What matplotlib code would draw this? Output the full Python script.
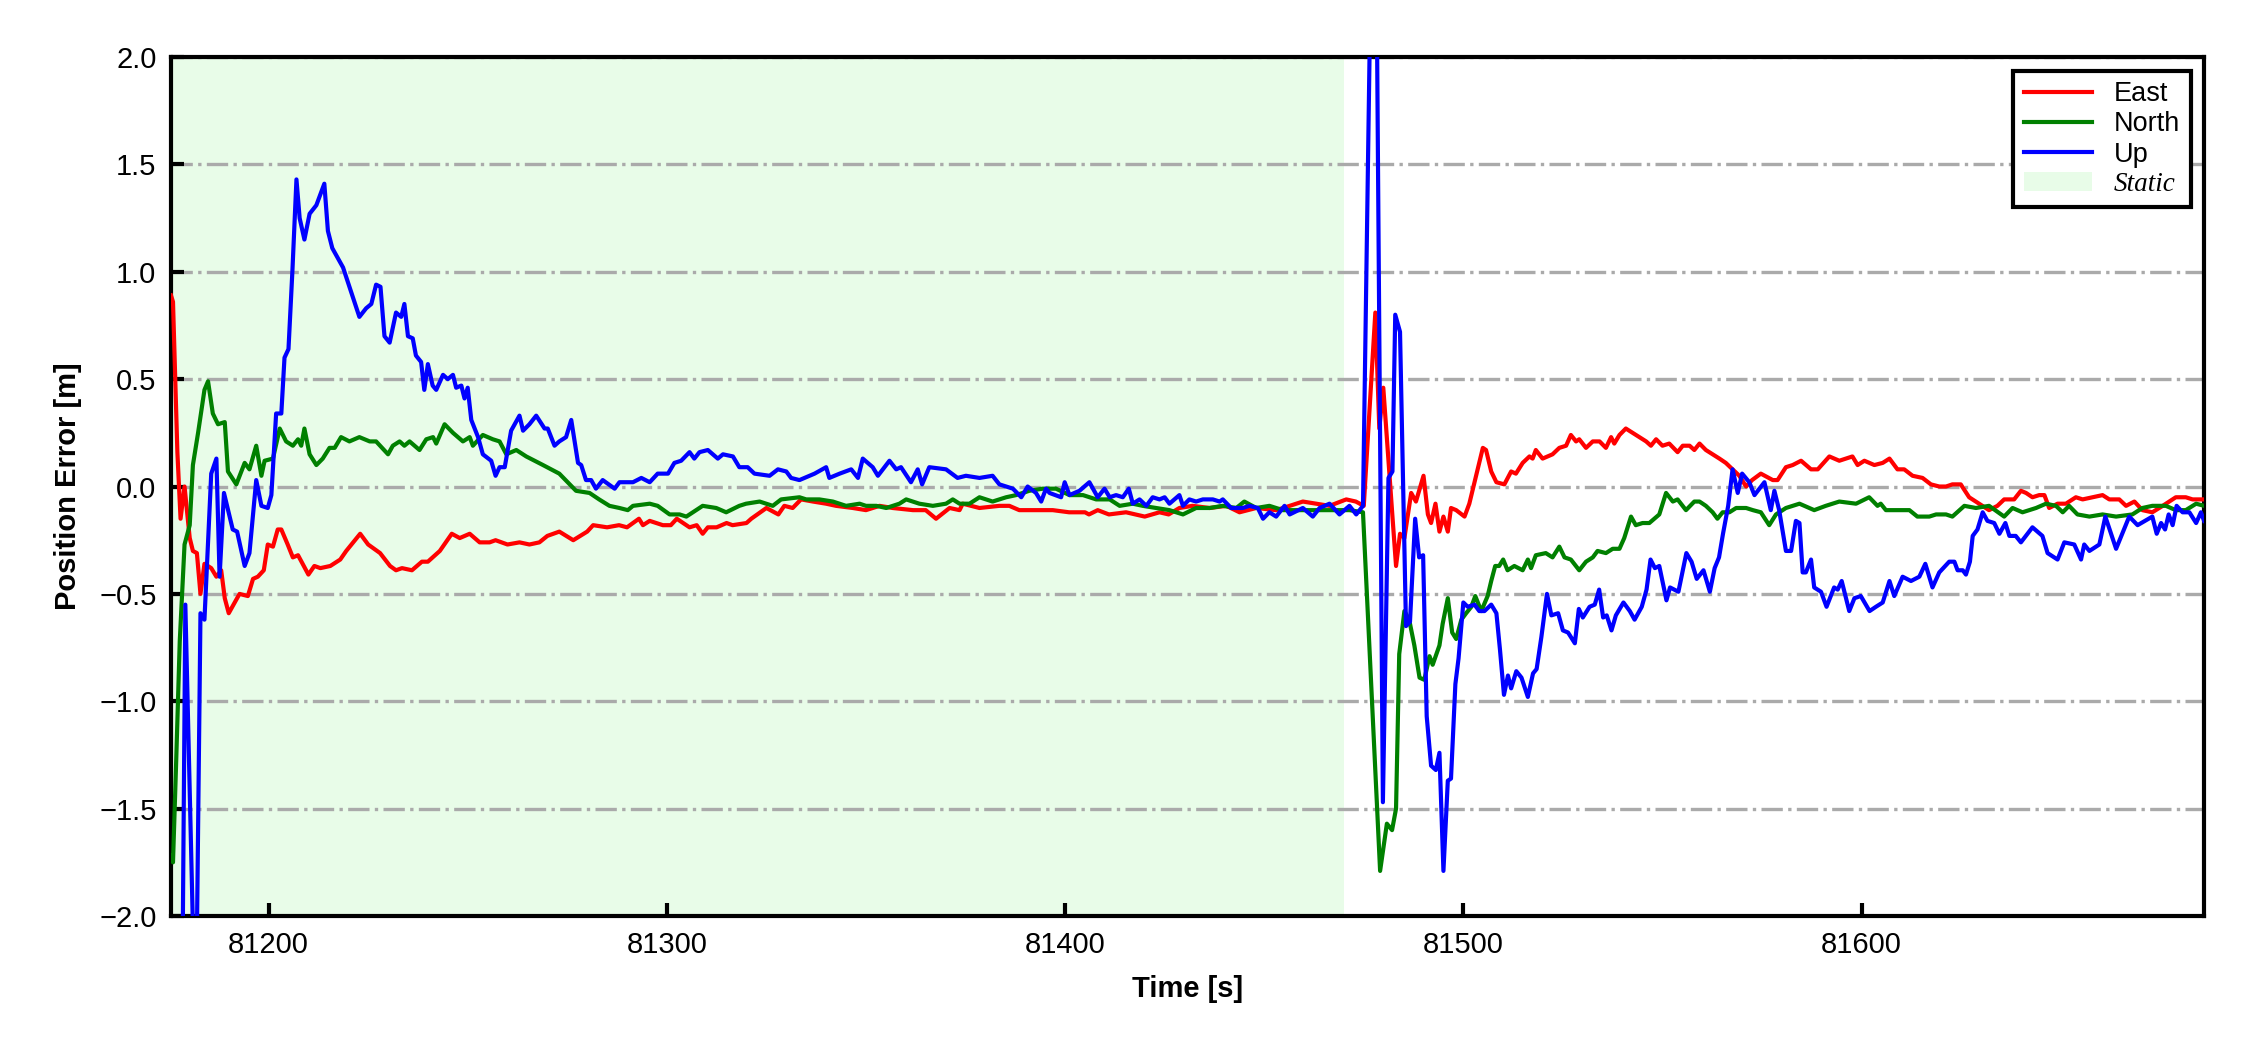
import numpy as np
import matplotlib
matplotlib.use('Agg')
import matplotlib.pyplot as plt
from matplotlib.patches import Patch
from matplotlib.lines import Line2D

# (time [s], error [m])
east_pts = [
    (81175.5, 0.89), (81176.0, 0.86), (81177.1, 0.16), (81177.9, -0.15), (81178.9, 0.00), (81180.2, -0.24),
    (81181.0, -0.30), (81182.0, -0.31), (81182.9, -0.50), (81183.9, -0.36), (81185.6, -0.38), (81186.9, -0.42),
    (81188.1, -0.39), (81189.0, -0.52), (81190.0, -0.59), (81191.5, -0.54), (81192.7, -0.50), (81194.8, -0.51),
    (81196.1, -0.43), (81197.3, -0.42), (81198.8, -0.39), (81199.8, -0.27), (81201.1, -0.28), (81202.3, -0.20),
    (81203.2, -0.20), (81204.8, -0.27), (81206.1, -0.33), (81207.4, -0.32), (81210.0, -0.41), (81211.5, -0.37),
    (81213.0, -0.38), (81215.5, -0.37), (81218.0, -0.34), (81219.5, -0.30), (81223.0, -0.22), (81225.0, -0.27),
    (81228.0, -0.31), (81230.5, -0.37), (81232.0, -0.39), (81233.5, -0.38), (81236.0, -0.39), (81238.5, -0.35),
    (81240.0, -0.35), (81243.0, -0.30), (81246.0, -0.22), (81248.0, -0.24), (81250.5, -0.22), (81253.0, -0.26),
    (81255.5, -0.26), (81257.0, -0.25), (81260.0, -0.27), (81263.0, -0.26), (81265.5, -0.27), (81268.0, -0.26),
    (81270.0, -0.23), (81273.0, -0.21), (81276.5, -0.25), (81280.0, -0.21), (81281.5, -0.18), (81285.0, -0.19),
    (81288.0, -0.18), (81290.0, -0.19), (81293.0, -0.15), (81294.0, -0.18), (81295.7, -0.16), (81299.0, -0.18),
    (81301.0, -0.18), (81302.5, -0.15), (81305.7, -0.19), (81307.5, -0.18), (81309.0, -0.22), (81310.3, -0.19),
    (81312.5, -0.19), (81315.0, -0.17), (81316.5, -0.18), (81320.0, -0.17), (81321.2, -0.15), (81325.0, -0.10),
    (81328.0, -0.13), (81329.5, -0.09), (81331.6, -0.10), (81333.7, -0.06), (81336.7, -0.07), (81340.0, -0.08),
    (81342.5, -0.09), (81346.7, -0.10), (81350.0, -0.11), (81353.4, -0.09), (81356.7, -0.10), (81361.8, -0.11),
    (81365.0, -0.11), (81367.6, -0.15), (81371.0, -0.10), (81373.5, -0.11), (81374.3, -0.08), (81378.5, -0.10),
    (81383.5, -0.09), (81386.0, -0.09), (81388.5, -0.11), (81392.0, -0.11), (81396.9, -0.11), (81401.0, -0.12),
    (81405.0, -0.12), (81406.0, -0.13), (81408.2, -0.11), (81411.0, -0.13), (81415.3, -0.12), (81420.0, -0.14),
    (81423.7, -0.12), (81426.0, -0.13), (81428.7, -0.10), (81432.0, -0.09), (81436.3, -0.10), (81440.5, -0.09),
    (81443.8, -0.12), (81448.0, -0.10), (81453.0, -0.11), (81456.4, -0.09), (81459.7, -0.07), (81463.0, -0.08),
    (81466.4, -0.09), (81470.6, -0.06), (81473.0, -0.07), (81475.0, -0.09), (81477.9, 0.81), (81478.9, 0.27),
    (81479.9, 0.46), (81481.0, 0.17), (81482.2, -0.14), (81483.1, -0.37), (81484.1, -0.22), (81485.2, -0.24),
    (81486.9, -0.03), (81488.1, -0.07), (81490.0, 0.05), (81491.1, -0.13), (81491.9, -0.17), (81493.0, -0.08),
    (81494.0, -0.21), (81495.0, -0.14), (81496.1, -0.21), (81496.9, -0.10), (81498.2, -0.11), (81500.3, -0.14),
    (81501.5, -0.08), (81503.2, 0.05), (81504.9, 0.18), (81505.7, 0.17), (81507.0, 0.07), (81508.3, 0.02),
    (81510.3, 0.01), (81512.0, 0.07), (81513.2, 0.06), (81514.9, 0.11), (81516.6, 0.14), (81517.4, 0.13),
    (81518.2, 0.17), (81519.9, 0.13), (81522.4, 0.15), (81524.1, 0.18), (81525.8, 0.19), (81527.0, 0.24),
    (81528.3, 0.21), (81529.1, 0.22), (81530.8, 0.18), (81532.5, 0.21), (81534.2, 0.21), (81535.8, 0.18),
    (81537.1, 0.23), (81537.9, 0.20), (81539.2, 0.24), (81540.8, 0.27), (81542.5, 0.25), (81544.2, 0.23),
    (81545.9, 0.21), (81547.1, 0.19), (81548.4, 0.22), (81550.0, 0.19), (81551.7, 0.20), (81553.8, 0.16),
    (81555.1, 0.19), (81556.8, 0.19), (81558.0, 0.17), (81559.3, 0.20), (81560.9, 0.17), (81562.6, 0.15),
    (81564.3, 0.13), (81565.9, 0.11), (81567.6, 0.08), (81569.3, 0.05), (81571.0, 0.00), (81572.5, 0.03),
    (81574.7, 0.06), (81577.7, 0.03), (81578.9, 0.03), (81581.0, 0.09), (81582.7, 0.10), (81584.8, 0.12),
    (81587.3, 0.08), (81589.0, 0.08), (81591.9, 0.14), (81594.4, 0.12), (81597.7, 0.14), (81599.0, 0.10),
    (81600.7, 0.12), (81603.2, 0.10), (81605.3, 0.11), (81607.0, 0.13), (81609.0, 0.08), (81610.7, 0.08),
    (81612.8, 0.05), (81615.3, 0.04), (81617.4, 0.01), (81619.5, 0.00), (81621.2, 0.00), (81622.8, 0.01),
    (81624.9, 0.01), (81627.0, -0.05), (81629.5, -0.08), (81632.0, -0.11), (81634.1, -0.09), (81635.8, -0.06),
    (81638.3, -0.06), (81640.0, -0.02), (81641.3, -0.03), (81642.9, -0.05), (81644.6, -0.04), (81645.9, -0.04),
    (81647.1, -0.10), (81649.2, -0.08), (81651.3, -0.08), (81653.8, -0.05), (81655.5, -0.06), (81658.0, -0.05),
    (81660.5, -0.04), (81662.2, -0.06), (81664.7, -0.06), (81666.4, -0.09), (81668.5, -0.07), (81670.5, -0.11),
    (81673.0, -0.12), (81675.6, -0.09), (81678.9, -0.05), (81681.4, -0.05), (81683.1, -0.06), (81686.0, -0.06),
]

north_pts = [
    (81175.5, -1.72), (81176.0, -1.75), (81176.8, -1.28), (81177.7, -0.72), (81178.9, -0.27), (81180.2, -0.18),
    (81181.0, 0.10), (81182.3, 0.25), (81183.9, 0.45), (81184.8, 0.49), (81186.0, 0.34), (81187.3, 0.29),
    (81189.0, 0.30), (81189.8, 0.07), (81191.9, 0.01), (81194.0, 0.11), (81195.2, 0.08), (81196.9, 0.19),
    (81198.2, 0.05), (81199.0, 0.12), (81201.1, 0.13), (81202.8, 0.27), (81204.4, 0.21), (81206.1, 0.19),
    (81207.4, 0.22), (81208.2, 0.19), (81209.0, 0.27), (81210.3, 0.15), (81212.0, 0.10), (81213.6, 0.13),
    (81215.3, 0.18), (81216.6, 0.18), (81218.2, 0.23), (81220.3, 0.21), (81222.8, 0.23), (81225.4, 0.21),
    (81227.0, 0.21), (81230.0, 0.15), (81231.2, 0.19), (81232.9, 0.21), (81234.1, 0.19), (81235.4, 0.21),
    (81237.9, 0.17), (81239.6, 0.22), (81241.3, 0.23), (81242.1, 0.20), (81244.2, 0.29), (81246.3, 0.25),
    (81248.8, 0.21), (81250.5, 0.23), (81251.3, 0.19), (81253.8, 0.24), (81256.3, 0.22), (81258.0, 0.21),
    (81259.7, 0.15), (81262.2, 0.17), (81264.7, 0.14), (81268.9, 0.10), (81273.0, 0.06), (81277.2, -0.02),
    (81280.6, -0.03), (81283.0, -0.06), (81285.6, -0.09), (81288.1, -0.10), (81290.2, -0.11), (81291.5, -0.09),
    (81295.7, -0.08), (81297.7, -0.09), (81300.7, -0.13), (81303.2, -0.13), (81304.9, -0.14), (81309.0, -0.09),
    (81312.4, -0.10), (81314.9, -0.12), (81318.2, -0.09), (81319.9, -0.08), (81323.3, -0.07), (81326.6, -0.09),
    (81328.7, -0.06), (81333.3, -0.05), (81335.0, -0.06), (81338.3, -0.06), (81341.7, -0.07), (81345.0, -0.09),
    (81348.4, -0.08), (81350.0, -0.09), (81352.6, -0.09), (81355.1, -0.10), (81358.4, -0.08), (81360.1, -0.06),
    (81363.4, -0.08), (81366.8, -0.09), (81370.1, -0.08), (81371.8, -0.06), (81373.5, -0.08), (81376.0, -0.08),
    (81378.5, -0.05), (81381.8, -0.07), (81385.2, -0.05), (81387.7, -0.04), (81391.0, -0.02), (81394.4, -0.01),
    (81397.7, -0.01), (81401.1, -0.04), (81404.5, -0.04), (81407.8, -0.06), (81411.2, -0.06), (81413.7, -0.09),
    (81417.0, -0.08), (81419.5, -0.09), (81422.9, -0.10), (81426.2, -0.11), (81429.6, -0.13), (81432.9, -0.10),
    (81436.3, -0.10), (81439.6, -0.09), (81443.0, -0.10), (81445.0, -0.07), (81448.0, -0.10), (81451.3, -0.09),
    (81454.7, -0.11), (81459.7, -0.11), (81463.0, -0.11), (81467.2, -0.11), (81471.4, -0.11), (81474.8, -0.12),
    (81479.1, -1.79), (81480.8, -1.57), (81482.1, -1.60), (81483.1, -1.50), (81483.9, -0.78), (81485.2, -0.58),
    (81486.4, -0.62), (81487.7, -0.74), (81489.0, -0.89), (81490.2, -0.90), (81491.5, -0.79), (81492.3, -0.83),
    (81494.0, -0.74), (81494.8, -0.64), (81496.1, -0.52), (81497.2, -0.68), (81498.2, -0.71), (81499.5, -0.62),
    (81500.7, -0.59), (81502.0, -0.56), (81503.0, -0.51), (81504.5, -0.58), (81506.1, -0.51), (81507.0, -0.44),
    (81508.0, -0.37), (81509.0, -0.37), (81510.0, -0.34), (81511.1, -0.39), (81512.8, -0.37), (81514.9, -0.39),
    (81516.2, -0.34), (81517.0, -0.38), (81518.2, -0.32), (81520.7, -0.31), (81522.4, -0.33), (81524.1, -0.28),
    (81525.4, -0.33), (81527.0, -0.34), (81529.1, -0.39), (81530.8, -0.35), (81532.5, -0.33), (81533.7, -0.30),
    (81535.8, -0.31), (81537.5, -0.29), (81539.2, -0.29), (81540.4, -0.24), (81542.1, -0.14), (81543.3, -0.18),
    (81545.0, -0.17), (81546.7, -0.17), (81549.2, -0.13), (81550.9, -0.03), (81552.6, -0.07), (81553.8, -0.06),
    (81555.9, -0.11), (81558.0, -0.07), (81559.3, -0.07), (81560.9, -0.09), (81562.6, -0.12), (81563.8, -0.15),
    (81565.1, -0.12), (81566.8, -0.12), (81568.5, -0.10), (81571.0, -0.10), (81572.7, -0.11), (81574.7, -0.12),
    (81576.8, -0.18), (81578.5, -0.13), (81581.0, -0.10), (81584.4, -0.08), (81588.1, -0.11), (81591.0, -0.09),
    (81594.4, -0.07), (81598.6, -0.08), (81601.9, -0.05), (81604.0, -0.09), (81604.8, -0.08), (81606.1, -0.11),
    (81609.5, -0.11), (81612.0, -0.11), (81614.0, -0.14), (81617.0, -0.14), (81618.7, -0.13), (81621.2, -0.13),
    (81622.8, -0.14), (81625.8, -0.09), (81628.7, -0.10), (81632.0, -0.09), (81635.8, -0.14), (81637.9, -0.10),
    (81640.4, -0.12), (81643.8, -0.10), (81646.3, -0.08), (81648.8, -0.09), (81650.5, -0.12), (81652.1, -0.09),
    (81654.2, -0.13), (81657.2, -0.14), (81660.5, -0.13), (81663.9, -0.14), (81668.0, -0.13), (81670.5, -0.10),
    (81673.0, -0.09), (81676.4, -0.09), (81678.9, -0.11), (81681.4, -0.11), (81684.0, -0.08), (81686.0, -0.09),
]

up_pts = [
    (81175.5, -3.0), (81177.9, -3.4), (81179.1, -0.55), (81181.7, -2.6), (81182.9, -0.59), (81183.9, -0.62),
    (81185.6, 0.06), (81186.9, 0.13), (81187.7, -0.42), (81188.8, -0.03), (81191.0, -0.20), (81192.1, -0.21),
    (81194.0, -0.37), (81195.2, -0.31), (81196.9, 0.03), (81198.2, -0.09), (81199.8, -0.10), (81200.7, -0.04),
    (81201.9, 0.34), (81203.2, 0.34), (81204.0, 0.60), (81205.0, 0.64), (81206.0, 1.01), (81207.0, 1.43),
    (81207.8, 1.25), (81209.0, 1.15), (81210.3, 1.27), (81212.0, 1.31), (81214.0, 1.41), (81214.9, 1.19),
    (81216.0, 1.11), (81218.7, 1.02), (81220.3, 0.93), (81222.8, 0.79), (81224.5, 0.83), (81225.8, 0.85),
    (81227.0, 0.94), (81228.1, 0.93), (81229.1, 0.70), (81230.4, 0.67), (81232.0, 0.81), (81233.3, 0.79),
    (81234.1, 0.85), (81235.0, 0.70), (81236.2, 0.69), (81237.0, 0.61), (81238.3, 0.58), (81239.1, 0.45),
    (81240.0, 0.57), (81241.2, 0.47), (81242.1, 0.45), (81243.8, 0.52), (81245.0, 0.50), (81246.3, 0.52),
    (81247.1, 0.46), (81248.4, 0.47), (81249.2, 0.41), (81250.0, 0.46), (81250.9, 0.31), (81252.6, 0.23),
    (81253.8, 0.15), (81255.9, 0.12), (81257.0, 0.05), (81258.0, 0.09), (81259.3, 0.09), (81260.9, 0.26),
    (81263.0, 0.33), (81263.9, 0.26), (81265.5, 0.29), (81267.2, 0.33), (81269.3, 0.27), (81270.1, 0.27),
    (81271.8, 0.19), (81273.0, 0.21), (81274.7, 0.23), (81276.0, 0.31), (81277.7, 0.11), (81278.5, 0.10),
    (81279.7, 0.03), (81281.0, 0.03), (81282.2, -0.01), (81283.9, 0.03), (81286.9, -0.01), (81288.1, 0.02),
    (81291.5, 0.02), (81293.6, 0.04), (81295.7, 0.02), (81297.7, 0.06), (81300.3, 0.06), (81301.9, 0.11),
    (81303.6, 0.12), (81305.7, 0.16), (81306.9, 0.13), (81308.2, 0.16), (81310.3, 0.17), (81312.8, 0.13),
    (81314.1, 0.15), (81316.6, 0.14), (81318.2, 0.09), (81320.3, 0.09), (81322.0, 0.06), (81325.8, 0.05),
    (81327.9, 0.08), (81330.0, 0.07), (81331.2, 0.04), (81333.3, 0.03), (81335.8, 0.05), (81337.1, 0.06),
    (81340.0, 0.09), (81340.8, 0.04), (81343.4, 0.06), (81346.3, 0.08), (81348.0, 0.04), (81349.2, 0.13),
    (81351.7, 0.09), (81353.0, 0.05), (81355.9, 0.12), (81357.6, 0.08), (81358.8, 0.09), (81361.3, 0.02),
    (81363.0, 0.08), (81364.1, 0.01), (81365.9, 0.09), (81370.1, 0.08), (81373.0, 0.04), (81375.1, 0.05),
    (81378.5, 0.04), (81381.8, 0.05), (81383.5, 0.01), (81385.2, 0.00), (81386.9, -0.01), (81389.0, -0.05),
    (81390.6, 0.00), (81392.7, -0.03), (81394.0, -0.07), (81395.2, -0.01), (81396.1, -0.03), (81399.0, -0.05),
    (81399.9, 0.02), (81401.1, -0.04), (81403.6, -0.02), (81406.1, 0.02), (81408.2, -0.05), (81409.9, -0.01),
    (81411.2, -0.05), (81412.8, -0.04), (81414.5, -0.05), (81416.0, -0.01), (81417.0, -0.08), (81418.7, -0.06),
    (81420.4, -0.09), (81422.0, -0.05), (81423.7, -0.06), (81425.0, -0.05), (81426.2, -0.08), (81428.7, -0.04),
    (81429.6, -0.09), (81431.2, -0.06), (81432.9, -0.07), (81434.6, -0.06), (81437.1, -0.06), (81438.8, -0.07),
    (81439.6, -0.06), (81441.7, -0.10), (81444.6, -0.10), (81446.3, -0.09), (81448.4, -0.10), (81449.7, -0.15),
    (81451.3, -0.12), (81453.0, -0.14), (81455.1, -0.09), (81456.4, -0.13), (81459.7, -0.10), (81462.2, -0.14),
    (81463.9, -0.10), (81466.4, -0.08), (81468.9, -0.13), (81471.4, -0.09), (81473.1, -0.13), (81474.8, -0.09),
    (81477.7, 3.6), (81479.8, -1.47), (81481.2, 0.04), (81482.2, 0.07), (81482.9, 0.80), (81484.1, 0.72),
    (81485.6, -0.65), (81486.6, -0.63), (81487.9, -0.15), (81488.9, -0.33), (81489.9, -0.32), (81490.8, -1.07),
    (81491.9, -1.30), (81493.1, -1.32), (81494.0, -1.24), (81495.0, -1.79), (81496.1, -1.37), (81496.9, -1.36),
    (81498.0, -0.92), (81498.8, -0.80), (81500.0, -0.54), (81501.1, -0.56), (81502.8, -0.55), (81504.0, -0.58),
    (81505.3, -0.58), (81507.0, -0.55), (81508.3, -0.59), (81509.2, -0.76), (81510.2, -0.97), (81511.2, -0.88),
    (81512.0, -0.94), (81513.3, -0.86), (81514.6, -0.89), (81516.2, -0.98), (81517.5, -0.87), (81518.4, -0.85),
    (81519.6, -0.70), (81521.0, -0.50), (81522.1, -0.60), (81523.8, -0.59), (81525.0, -0.67), (81526.3, -0.68),
    (81528.0, -0.73), (81529.0, -0.57), (81530.0, -0.61), (81531.7, -0.56), (81533.0, -0.55), (81534.1, -0.48),
    (81535.1, -0.61), (81536.0, -0.60), (81537.2, -0.67), (81538.3, -0.60), (81540.2, -0.54), (81541.8, -0.58),
    (81543.0, -0.62), (81544.8, -0.56), (81546.0, -0.48), (81547.0, -0.34), (81548.1, -0.38), (81549.2, -0.37),
    (81551.0, -0.53), (81551.9, -0.47), (81554.0, -0.49), (81556.0, -0.31), (81557.3, -0.35), (81558.6, -0.43),
    (81560.3, -0.39), (81561.9, -0.49), (81563.1, -0.38), (81564.2, -0.33), (81565.2, -0.22), (81566.5, -0.09),
    (81567.6, 0.08), (81568.9, -0.03), (81570.0, 0.06), (81571.8, 0.02), (81573.1, -0.04), (81575.6, 0.02),
    (81577.2, -0.11), (81578.1, -0.02), (81579.3, -0.11), (81581.0, -0.30), (81582.3, -0.30), (81583.5, -0.16),
    (81584.4, -0.17), (81585.2, -0.40), (81586.0, -0.40), (81587.3, -0.34), (81588.1, -0.47), (81589.8, -0.49),
    (81591.2, -0.56), (81593.1, -0.47), (81594.0, -0.48), (81595.0, -0.44), (81596.9, -0.58), (81598.2, -0.52),
    (81599.8, -0.51), (81602.0, -0.58), (81603.6, -0.56), (81605.3, -0.54), (81607.0, -0.44), (81608.2, -0.51),
    (81610.3, -0.42), (81612.4, -0.44), (81614.5, -0.42), (81616.0, -0.36), (81617.8, -0.47), (81619.5, -0.40),
    (81622.0, -0.35), (81623.3, -0.35), (81624.1, -0.39), (81625.4, -0.39), (81626.2, -0.41), (81627.2, -0.35),
    (81627.9, -0.23), (81629.1, -0.20), (81630.4, -0.12), (81631.6, -0.16), (81633.3, -0.17), (81634.6, -0.22),
    (81636.1, -0.17), (81637.1, -0.23), (81638.7, -0.23), (81640.0, -0.26), (81642.9, -0.19), (81645.4, -0.23),
    (81646.7, -0.31), (81649.2, -0.34), (81650.9, -0.26), (81653.4, -0.27), (81655.1, -0.34), (81655.9, -0.27),
    (81657.2, -0.30), (81659.7, -0.27), (81661.2, -0.14), (81663.9, -0.29), (81667.2, -0.14), (81669.3, -0.18),
    (81673.0, -0.14), (81674.1, -0.22), (81675.2, -0.17), (81676.2, -0.20), (81677.1, -0.13), (81678.1, -0.18),
    (81679.1, -0.09), (81680.6, -0.12), (81682.3, -0.12), (81684.0, -0.17), (81685.2, -0.12), (81686.0, -0.16),
]

static_end = 81470.0
yticks = [-2.0, -1.5, -1.0, -0.5, 0.0, 0.5, 1.0, 1.5, 2.0]
xticks = [81200, 81300, 81400, 81500, 81600]

east_t, east = np.array(east_pts).T
north_t, north = np.array(north_pts).T
up_t, up = np.array(up_pts).T

plt.rcParams['font.family'] = ['Liberation Sans', 'DejaVu Sans']
plt.rcParams['font.size'] = 7

fig = plt.figure(figsize=(7.5, 3.5), dpi=300)
ax = fig.add_axes([0.076, 0.1276, 0.9036, 0.8181])

t0 = min(east_t[0], north_t[0], up_t[0])
t1 = max(east_t[-1], north_t[-1], up_t[-1])

ax.axvspan(t0, static_end, color='#e8fce8', lw=0, zorder=0)
ax.plot(east_t, east, color='red', lw=1.0, zorder=3)
ax.plot(north_t, north, color='green', lw=1.0, zorder=3)
ax.plot(up_t, up, color='blue', lw=1.0, zorder=3)

ax.set_xlim(t0, t1)
ax.set_ylim(-2.0, 2.0)
ax.set_xticks(xticks)
ax.set_yticks(yticks)
ax.yaxis.grid(True, linestyle='-.', color='#aaaaaa', lw=0.8, zorder=1)
ax.set_axisbelow(True)
ax.tick_params(direction='in', length=3.2, width=1.0, labelsize=7)
for s in ax.spines.values():
    s.set_linewidth(1.0)

ax.set_xlabel('Time [s]', fontweight='bold', fontsize=7)
ax.set_ylabel('Position Error [m]', fontweight='bold', fontsize=7)

handles = [Line2D([], [], color='red', lw=1.0),
           Line2D([], [], color='green', lw=1.0),
           Line2D([], [], color='blue', lw=1.0),
           Patch(facecolor='#e8fce8', edgecolor='none')]
leg = ax.legend(handles, ['East', 'North', 'Up', 'Static'], loc='upper right',
                fontsize=6.5, fancybox=False, edgecolor='black', framealpha=1,
                handlelength=2.5, labelspacing=0.15, borderpad=0.4, handletextpad=0.8)
leg.get_frame().set_linewidth(1.0)
txt = leg.get_texts()[3]
txt.set_family('Liberation Serif')
txt.set_style('italic')

fig.savefig('out.png', dpi=300)
